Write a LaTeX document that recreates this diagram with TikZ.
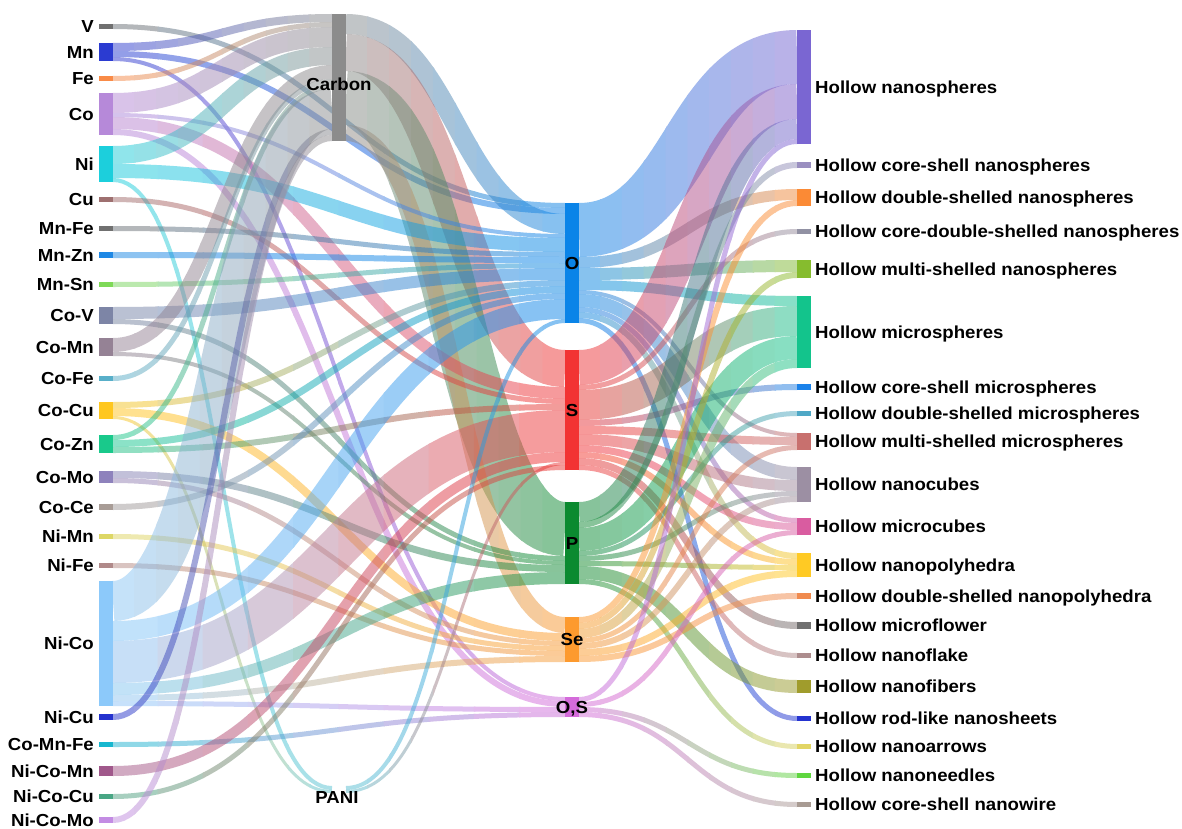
\documentclass[tikz,border=0pt]{standalone}
\usepackage{fontspec}
\setmainfont{Liberation Sans}[FakeStretch=1.07]
\newcommand\nd[5]{%
  \definecolor{c#1}{HTML}{#5}%
  \expandafter\xdef\csname X#1\endcsname{#2}%
  \expandafter\xdef\csname T#1\endcsname{#3}%
  \expandafter\xdef\csname H#1\endcsname{#4}%
  \expandafter\xdef\csname O#1\endcsname{#3}%
  \expandafter\xdef\csname I#1\endcsname{#3}%
}
% left column
\nd{V}{99}{24}{5}{707070}
\nd{Mn}{99}{43}{18}{2B3BD1}
\nd{Fe}{99}{76}{5}{F98B47}
\nd{Co}{99}{93}{42}{B689D9}
\nd{Ni}{99}{146}{36}{1CCFDC}
\nd{Cu}{99}{197}{5}{9E7070}
\nd{MnFe}{99}{226}{5}{707070}
\nd{MnZn}{99}{252}{6}{1E88E5}
\nd{MnSn}{99}{282}{5}{7ED957}
\nd{CoV}{99}{307}{17}{7D85A6}
\nd{CoMn}{99}{338}{18}{958295}
\nd{CoFe}{99}{376}{5}{58AFC9}
\nd{CoCu}{99}{402}{17}{FFC71F}
\nd{CoZn}{99}{435}{18}{19C98B}
\nd{CoMo}{99}{471}{12}{8E82BC}
\nd{CoCe}{99}{504}{6}{A89C96}
\nd{NiMn}{99}{534}{5}{DDD765}
\nd{NiFe}{99}{563}{5}{B08989}
\nd{NiCo}{99}{581}{125}{8CC9FA}
\nd{NiCu}{99}{714}{6}{2432CE}
\nd{CoMnFe}{99}{742}{5}{17B7CF}
\nd{NiCoMn}{99}{766}{10}{A0588B}
\nd{NiCoCu}{99}{794}{5}{48A684}
\nd{NiCoMo}{99}{817}{6}{C38CE3}
% second column
\nd{Carbon}{332}{14}{127}{8C8C8C}
\nd{PANI}{332}{786}{7}{5CC2D2}
% middle column
\nd{O}{565}{203}{120}{0A84E8}
\nd{S}{565}{350}{120}{F23333}
\nd{P}{565}{502}{82}{0B8A30}
\nd{Se}{565}{617}{45}{FD9A2E}
\nd{OS}{565}{697}{20}{D46BDA}
% right column
\nd{NS}{797}{30}{114}{7A66D2}
\nd{CSN}{797}{162}{6}{9A8FC0}
\nd{DSN}{797}{189}{17}{FB8A35}
\nd{CDSN}{797}{229}{5}{9191A3}
\nd{MSN}{797}{260}{18}{86BC2E}
\nd{MS}{797}{296}{72}{13C48C}
\nd{CSM}{797}{384}{6}{1A82EA}
\nd{DSM}{797}{411}{5}{4FA8C6}
\nd{MSM}{797}{433}{17}{C8706E}
\nd{NC}{797}{467}{35}{9C8FA3}
\nd{MC}{797}{518}{17}{D95CA0}
\nd{NP}{797}{553}{24}{FFCA24}
\nd{DSNP}{797}{593}{6}{F08A4E}
\nd{MF}{797}{622}{7}{707070}
\nd{NFl}{797}{653}{5}{AD8D8E}
\nd{NFi}{797}{680}{13}{A09C2C}
\nd{RL}{797}{716}{5}{2433D0}
\nd{NA}{797}{744}{5}{E2D564}
\nd{NN}{797}{773}{5}{5FD63F}
\nd{NW}{797}{802}{5}{A89B93}
% link: source, target, width (stacked from the top of each bar)
\newcommand\lk[3]{%
  \pgfmathsetmacro\lkya{\csname O#1\endcsname+#3/2}%
  \pgfmathsetmacro\lkyb{\csname I#2\endcsname+#3/2}%
  \pgfmathsetmacro\lkxa{\csname X#1\endcsname+14}%
  \pgfmathsetmacro\lkxb{\csname X#2\endcsname}%
  \pgfmathsetmacro\lkxm{(\lkxa+\lkxb)/2}%
  \pgfmathsetmacro\lkt{\csname O#1\endcsname+#3}%
  \expandafter\xdef\csname O#1\endcsname{\lkt}%
  \pgfmathsetmacro\lkt{\csname I#2\endcsname+#3}%
  \expandafter\xdef\csname I#2\endcsname{\lkt}%
  \pgfmathsetmacro\lklo{min(\lkya,\lkyb)-#3}%
  \pgfmathsetmacro\lkhi{max(\lkya,\lkyb)+#3}%
  \begin{scope}[opacity=.5]
  \begin{scope}[transparency group]
  \foreach \k in {0,...,9}{%
    \pgfmathtruncatemacro\lkp{(\k+0.5)*10}%
    \pgfmathsetmacro\lkl{\lkxa+(\lkxb-\lkxa)*\k/10-0.7}%
    \pgfmathsetmacro\lkr{\lkxa+(\lkxb-\lkxa)*(\k+1)/10+0.7}%
    \edef\lkc{c#2!\lkp!c#1}%
    \begin{scope}
      \clip (\lkl,\lklo) rectangle (\lkr,\lkhi);
      \draw[line width=#3pt, color=\lkc] (\lkxa,\lkya) .. controls (\lkxm,\lkya) and (\lkxm,\lkyb) .. (\lkxb,\lkyb);
    \end{scope}}
  \end{scope}
  \end{scope}}
\begin{document}
\begin{tikzpicture}[x=1pt,y=-1pt,
  barbox/.style={rectangle, draw=none, inner sep=0pt, outer sep=0pt, minimum width=14pt},
  lab/.style={font=\fontsize{17.4}{20}\selectfont\bfseries, inner sep=0pt, text height=12.4pt, text depth=0pt, text=black}]
\useasboundingbox (0,0) rectangle (1182,829);
\fill[white] (0,0) rectangle (1182,829);
% ---- links: left column -> Carbon / PANI / middle
\lk{V}{O}{5}
\lk{Mn}{Carbon}{8}
\lk{Mn}{O}{6}
\lk{Mn}{OS}{4}
\lk{Fe}{Carbon}{5}
\lk{Carbon}{O}{20}
\lk{Carbon}{S}{37}
\lk{Carbon}{P}{54}
\lk{Carbon}{Se}{16}
\lk{Co}{Carbon}{20}
\lk{Co}{O}{4}
\lk{Co}{S}{12}
\lk{Co}{OS}{6}
\lk{Ni}{Carbon}{18}
\lk{Ni}{O}{14}
\lk{Ni}{PANI}{4}
\lk{Cu}{S}{5}
\lk{MnFe}{O}{5}
\lk{MnZn}{O}{6}
\lk{MnSn}{O}{5}
\lk{CoV}{O}{12}
\lk{CoV}{P}{5}
\lk{CoMn}{Carbon}{14}
\lk{CoMn}{P}{4}
\lk{CoFe}{Carbon}{5}
\lk{CoCu}{O}{6}
\lk{CoCu}{Se}{8}
\lk{CoCu}{PANI}{3}
\lk{CoZn}{Carbon}{5}
\lk{CoZn}{O}{7}
\lk{CoZn}{S}{6}
\lk{CoMo}{P}{7}
\lk{CoMo}{Se}{5}
\lk{CoCe}{O}{6}
\lk{NiMn}{Se}{5}
\lk{NiFe}{Se}{5}
\lk{NiCo}{Carbon}{40}
\lk{NiCo}{O}{20}
\lk{NiCo}{S}{42}
\lk{NiCo}{P}{12}
\lk{NiCo}{Se}{6}
\lk{NiCo}{OS}{5}
\lk{NiCu}{Carbon}{6}
\lk{CoMnFe}{OS}{5}
\lk{NiCoMn}{S}{10}
\lk{PANI}{O}{4}
\lk{PANI}{S}{3}
\lk{NiCoCu}{S}{5}
\lk{NiCoMo}{Carbon}{6}
% ---- links: middle -> right
\lk{O}{NS}{54}
\lk{O}{DSN}{11}
\lk{O}{MSN}{12}
\lk{O}{MS}{10}
\lk{O}{MSM}{4}
\lk{O}{NC}{13}
\lk{O}{MC}{5}
\lk{O}{NP}{6}
\lk{O}{RL}{5}
\lk{S}{NS}{35}
\lk{S}{CDSN}{5}
\lk{S}{MS}{30}
\lk{S}{CSM}{6}
\lk{S}{MSM}{8}
\lk{S}{NC}{11}
\lk{S}{MC}{7}
\lk{S}{NP}{6}
\lk{S}{MF}{7}
\lk{S}{NFl}{5}
\lk{P}{NS}{20}
\lk{P}{CSN}{6}
\lk{P}{MS}{23}
\lk{P}{DSM}{5}
\lk{P}{NC}{5}
\lk{P}{NP}{5}
\lk{P}{NFi}{13}
\lk{P}{NA}{5}
\lk{Se}{DSN}{6}
\lk{Se}{MSN}{6}
\lk{Se}{MS}{9}
\lk{Se}{MSM}{5}
\lk{Se}{NC}{6}
\lk{Se}{NP}{7}
\lk{Se}{DSNP}{6}
\lk{OS}{NS}{5}
\lk{OS}{MC}{5}
\lk{OS}{NN}{5}
\lk{OS}{NW}{5}
% ---- bars
\foreach \id in {V,Mn,Fe,Co,Ni,Cu,MnFe,MnZn,MnSn,CoV,CoMn,CoFe,CoCu,CoZn,CoMo,CoCe,NiMn,NiFe,NiCo,NiCu,CoMnFe,NiCoMn,NiCoCu,NiCoMo,Carbon,O,S,P,Se,OS,NS,CSN,DSN,CDSN,MSN,MS,CSM,DSM,MSM,NC,MC,NP,DSNP,MF,NFl,NFi,RL,NA,NN,NW}{%
  \pgfmathsetmacro\hh{\csname H\id\endcsname}%
  \pgfmathsetmacro\cx{\csname X\id\endcsname+7}%
  \pgfmathsetmacro\cy{\csname T\id\endcsname+\hh/2}%
  \node[barbox, fill=c\id, minimum height=\hh pt] (\id) at (\cx,\cy) {};}
\node[barbox, minimum height=7pt] (PANI) at (339,789.5) {};
% ---- labels
\foreach \id/\t in {V/V,Mn/Mn,Fe/Fe,Co/Co,Ni/Ni,Cu/Cu,MnFe/Mn-Fe,MnZn/Mn-Zn,MnSn/Mn-Sn,CoV/Co-V,CoMn/Co-Mn,CoFe/Co-Fe,CoCu/Co-Cu,CoZn/Co-Zn,CoMo/Co-Mo,CoCe/Co-Ce,NiMn/Ni-Mn,NiFe/Ni-Fe,NiCo/Ni-Co,NiCu/Ni-Cu,CoMnFe/Co-Mn-Fe,NiCoMn/Ni-Co-Mn,NiCoCu/Ni-Co-Cu,NiCoMo/Ni-Co-Mo}{%
  \node[lab, anchor=east] (t\id) at ([xshift=-5pt]\id.west) {\t};}
\foreach \id/\t in {NS/Hollow nanospheres,CSN/Hollow core-shell nanospheres,DSN/Hollow double-shelled nanospheres,CDSN/Hollow core-double-shelled nanospheres,MSN/Hollow multi-shelled nanospheres,MS/Hollow microspheres,CSM/Hollow core-shell microspheres,DSM/Hollow double-shelled microspheres,MSM/Hollow multi-shelled microspheres,NC/Hollow nanocubes,MC/Hollow microcubes,NP/Hollow nanopolyhedra,DSNP/Hollow double-shelled nanopolyhedra,MF/Hollow microflower,NFl/Hollow nanoflake,NFi/Hollow nanofibers,RL/Hollow rod-like nanosheets,NA/Hollow nanoarrows,NN/Hollow nanoneedles,NW/Hollow core-shell nanowire}{%
  \node[lab, anchor=west] (t\id) at ([xshift=4pt]\id.east) {\t};}
\node[lab] (tCarbon) at (339,84) {Carbon};
\node[lab] (tPANI) at (337,797) {PANI};
\node[lab] (tO) at (O.center) {O};
\node[lab] (tS) at (S.center) {S};
\node[lab] (tP) at (P.center) {P};
\node[lab] (tSe) at (Se.center) {Se};
\node[lab] (tOS) at (OS.center) {O,S};
\end{tikzpicture}
\end{document}
